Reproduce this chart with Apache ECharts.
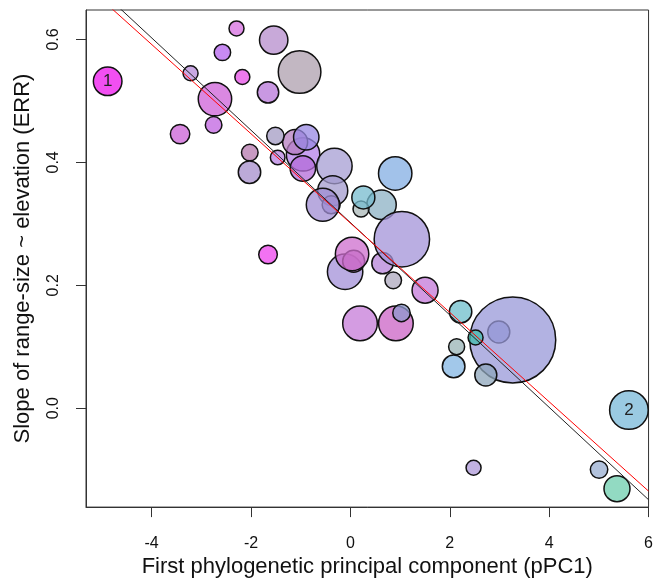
<!DOCTYPE html>
<html>
<head>
<meta charset="utf-8">
<script src="https://cdn.jsdelivr.net/npm/echarts@6/dist/echarts.min.js"></script>
<style>
  html, body { margin: 0; padding: 0; background: #fff; }
  #chart { width: 656px; height: 583px; }
</style>
</head>
<body>
<div id="chart"></div>
<script>
// pPC1 score, ERR slope and bubble size (radius) for each species, in drawing order
var pcX = [-4.884, -2.291, -1.543, -2.575, -1.022, -3.216, -2.174, -1.657, -2.725, -2.752,
  -3.427, -0.952, -1.112, -0.888, -0.956, -1.509, -1.463, -2.024, -2.030, -0.321,
  -0.355, -0.387, -0.555, 0.627, 0.214, 0.261, 0.902, 0.647, 1.036, -1.657,
  -0.106, 0.066, 0.034, 0.862, 1.503, 0.194, 0.916, 1.028, 2.218, 2.986,
  3.267, 2.519, 2.725, 2.138, 2.078, 5.605, 2.479, 5.004, 5.365]
var errY = [0.532, 0.618, 0.599, 0.579, 0.547, 0.545, 0.539, 0.514, 0.503, 0.461,
  0.446, 0.413, 0.433, 0.441, 0.390, 0.443, 0.408, 0.416, 0.384, 0.394,
  0.354, 0.331, 0.331, 0.331, 0.324, 0.343, 0.382, 0.236, 0.275, 0.250,
  0.222, 0.239, 0.251, 0.208, 0.192, 0.138, 0.138, 0.155, 0.157, 0.124,
  0.111, 0.115, 0.054, 0.100, 0.068, -0.003, -0.097, -0.100, -0.131]
var bubbleR = [14.3, 7.5, 14.2, 8.2, 21.3, 7.5, 7.5, 10.7, 16.7, 8.3,
  9.7, 16.7, 12.5, 12.7, 12.7, 8.7, 7.3, 8.3, 11.2, 17.7,
  15, 9, 16.5, 14.7, 8, 11.5, 16.7, 10.7, 27.7, 9.3,
  17.7, 11, 16.7, 8.3, 13, 17.3, 17.3, 8.7, 11.2, 11,
  43, 7.5, 11, 8, 11.3, 19.3, 7.5, 8.7, 13]
var pointTags = ['1', '', '', '', '', '', '', '', '', '',
  '', '', '', '', '', '', '', '', '', '',
  '', '', '', '', '', '', '', '', '', '',
  '', '', '', '', '', '', '', '', '', '',
  '', '', '', '', '', '2', '', '', '']

// colour of each bubble as it looks on white
var fillColours = ['#f24ff2', '#e092e8', '#c8a9d9', '#c78af2', '#c2b7c2', '#c9a8e3', '#ec7aec', '#c998e2', '#da88e2', '#d08ae8',
  '#d888e0', '#c8a0f0', '#c89ed0', '#b2a6ea', '#c690e2', '#bab4d2', '#caa2ea', '#c89ac2', '#bcaad8', '#bcb6de',
  '#bab4da', '#b4a8dc', '#b8aade', '#a9c5d3', '#c0caca', '#98ccda', '#a2c2ea', '#c8a2e2', '#baaee2', '#f272f2',
  '#baace2', '#c994cc', '#da92da', '#c2bece', '#d29ae2', '#d49ce2', '#d88ad4', '#aab2da', '#92ced8', '#a6acdc',
  '#b2b2e2', '#72cec2', '#aabccc', '#b2c6c8', '#a2c8ea', '#9acae2', '#c2b2e2', '#b2c2dc', '#92dac2']

// fitted lines (ends at the axis limits)
var blackFit = [[-5.32, 0.702], [6, -0.149]]
var redFit = [[-5.32, 0.688], [6, -0.135]]

var xTicks = [-4, -2, 0, 2, 4, 6]
var yTicks = [0, 0.2, 0.4, 0.6]

var ALPHA = 0.75
function deblend (hex) {
  var out = []
  for (var k = 0; k < 3; k++) {
    var c = parseInt(hex.substr(1 + 2 * k, 2), 16)
    out.push(Math.max(0, Math.min(255, Math.round((c - 255 * (1 - ALPHA)) / ALPHA))))
  }
  return 'rgba(' + out.join(',') + ',' + ALPHA + ')'
}

var points = []
for (var i = 0; i < pcX.length; i++) {
  points.push({
    value: [pcX[i], errY[i], bubbleR[i]],
    itemStyle: { color: deblend(fillColours[i]) },
    label: { show: pointTags[i] !== '', formatter: pointTags[i] }
  })
}

var myChart = echarts.init(document.getElementById('chart'))
var font = 'Liberation Sans, Arial, sans-serif'
var option = {
  animation: false,
  grid: { left: 86, right: 5, top: 10, bottom: 70, show: true, borderColor: '#333', borderWidth: 1 },
  xAxis: {
    type: 'value', min: -5.32, max: 6,
    splitLine: { show: false },
    axisLine: { onZero: false, lineStyle: { color: '#333' } },
    axisTick: { show: true, customValues: xTicks, length: 10, lineStyle: { color: '#333' } },
    axisLabel: { customValues: xTicks, fontSize: 16, margin: 28, color: '#111', fontFamily: font },
    name: 'First phylogenetic principal component (pPC1)',
    nameLocation: 'middle', nameGap: 47,
    nameTextStyle: { fontSize: 22, color: '#111', fontFamily: font }
  },
  yAxis: {
    type: 'value', min: -0.161, max: 0.648,
    splitLine: { show: false },
    axisLine: { onZero: false, lineStyle: { color: '#333' } },
    axisTick: { show: true, customValues: yTicks, length: 10, lineStyle: { color: '#333' } },
    axisLabel: {
      customValues: yTicks, rotate: 90, fontSize: 16, margin: 24, color: '#111', fontFamily: font,
      formatter: function (v) { return v.toFixed(1) }
    },
    name: 'Slope of range-size ~ elevation (ERR)',
    nameLocation: 'middle', nameGap: 52,
    nameTextStyle: { fontSize: 22, color: '#111', fontFamily: font }
  },
  series: [{
    type: 'scatter',
    data: points,
    symbolSize: function (val) { return val[2] * 2 },
    itemStyle: { borderColor: '#111', borderWidth: 1.5, opacity: 1 },
    label: { position: 'inside', fontSize: 17, color: '#222', fontFamily: font },
    z: 2
  }, {
    type: 'line',
    data: blackFit,
    symbol: 'none',
    lineStyle: { color: '#222', width: 1 },
    z: 3
  }, {
    type: 'line',
    data: redFit,
    symbol: 'none',
    lineStyle: { color: '#ff0000', width: 1 },
    z: 4
  }]
}
myChart.setOption(option)
</script>
</body>
</html>
